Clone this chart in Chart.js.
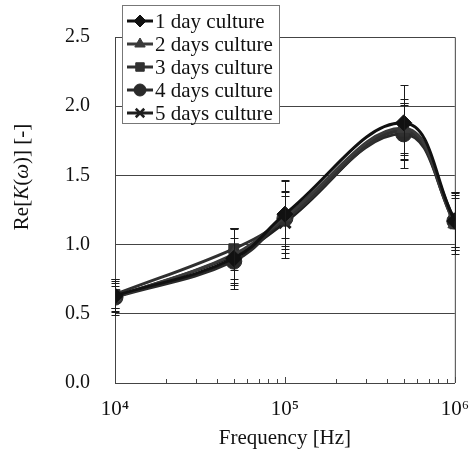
<!DOCTYPE html>
<html>
<head>
<meta charset="utf-8">
<script src="https://cdn.jsdelivr.net/npm/chart.js@4/dist/chart.umd.min.js"></script>
<style>
  html, body { margin: 0; background: #fff; }
  #wrap { width: 475px; height: 456px; }
</style>
</head>
<body>
<div id="wrap"><canvas id="chart"></canvas></div>
<script>
const frequencies = [1e4, 5e4, 1e5, 5e5, 1e6];
const seriesNames = ['1 day culture', '2 days culture', '3 days culture', '4 days culture', '5 days culture'];

const day1 = [0.63, 0.90, 1.22, 1.88, 1.17];
const day2 = [0.62, 0.93, 1.20, 1.84, 1.15];
const day3 = [0.64, 0.97, 1.18, 1.82, 1.15];
const day4 = [0.62, 0.88, 1.19, 1.80, 1.17];
const day5 = [0.62, 0.92, 1.16, 1.83, 1.18];

const day1Err = [0.12, 0.22, 0.25, 0.27, 0.21];
const day2Err = [0.10, 0.18, 0.15, 0.18, 0.19];
const day3Err = [0.10, 0.15, 0.28, 0.20, 0.22];
const day4Err = [0.13, 0.17, 0.20, 0.25, 0.19];
const day5Err = [0.08, 0.20, 0.22, 0.18, 0.20];

const xTicks = [1e4, 2e4, 3e4, 4e4, 5e4, 6e4, 7e4, 8e4, 9e4,
                1e5, 2e5, 3e5, 4e5, 5e5, 6e5, 7e5, 8e5, 9e5, 1e6];
const xMajor = [1e4, 1e5, 1e6];
const yTicks = [0, 0.5, 1.0, 1.5, 2.0, 2.5];

const values = [day1, day2, day3, day4, day5];
const errors = [day1Err, day2Err, day3Err, day4Err, day5Err];
const pointStyles = ['rectRot', 'triangle', 'rect', 'circle', 'crossRot'];
const radii = [8, 8, 7, 8, 8];
const colors = ['#111111', '#3a3a3a', '#303030', '#2a2a2a', '#1e1e1e'];

const serif = '"Liberation Serif", "DejaVu Serif", serif';
const sup = { 4: '\u2074', 5: '\u2075', 6: '\u2076' };

const datasets = values.map((vals, i) => ({
  label: seriesNames[i],
  data: vals.map((v, j) => ({ x: frequencies[j], y: v })),
  borderColor: colors[i],
  backgroundColor: colors[i],
  borderWidth: 3,
  tension: 0.4,
  pointStyle: pointStyles[i],
  pointRadius: radii[i],
  pointBackgroundColor: colors[i],
  pointBorderColor: colors[i],
  pointBorderWidth: pointStyles[i] === 'crossRot' ? 3 : 1
}));

// frame, inward x ticks, error bars, legend and axis titles
const extras = {
  id: 'extras',
  beforeDatasetsDraw(chart) {
    const { ctx, chartArea: a } = chart;
    const xs = chart.scales.x;
    ctx.save();
    ctx.strokeStyle = '#444';
    ctx.lineWidth = 1;
    ctx.beginPath();
    ctx.moveTo(a.left, a.top + 0.5);
    ctx.lineTo(a.right + 0.5, a.top + 0.5);
    ctx.lineTo(a.right + 0.5, a.bottom);
    for (const t of xTicks) {
      const px = Math.round(xs.getPixelForValue(t)) + 0.5;
      const len = xMajor.includes(t) ? 6 : 4;
      ctx.moveTo(px, a.bottom);
      ctx.lineTo(px, a.bottom - len);
    }
    ctx.stroke();
    ctx.restore();
  },
  afterDatasetsDraw(chart) {
    const { ctx } = chart;
    const xs = chart.scales.x, ys = chart.scales.y;
    ctx.save();
    ctx.strokeStyle = '#1a1a1a';
    ctx.lineWidth = 1;
    values.forEach((vals, i) => {
      vals.forEach((v, j) => {
        const px = Math.round(xs.getPixelForValue(frequencies[j])) + 0.5;
        const top = Math.round(ys.getPixelForValue(v + errors[i][j])) + 0.5;
        const bot = Math.round(ys.getPixelForValue(v - errors[i][j])) + 0.5;
        ctx.beginPath();
        ctx.moveTo(px, top); ctx.lineTo(px, bot);
        ctx.moveTo(px - 4, top); ctx.lineTo(px + 4, top);
        ctx.moveTo(px - 4, bot); ctx.lineTo(px + 4, bot);
        ctx.stroke();
      });
    });
    ctx.restore();
  },
  afterDraw(chart) {
    const { ctx, chartArea: a } = chart;
    ctx.save();

    // legend box
    ctx.fillStyle = '#fff';
    ctx.fillRect(122, 5, 157, 118);
    ctx.strokeStyle = '#777';
    ctx.lineWidth = 1;
    ctx.strokeRect(122.5, 5.5, 157, 118);
    seriesNames.forEach((name, i) => {
      const cy = 21 + i * 23;
      ctx.strokeStyle = colors[i];
      ctx.fillStyle = colors[i];
      ctx.lineWidth = 3;
      ctx.beginPath();
      ctx.moveTo(127, cy); ctx.lineTo(153, cy);
      ctx.stroke();
      if (Chart.helpers && Chart.helpers.drawPoint) {
        ctx.lineWidth = pointStyles[i] === 'crossRot' ? 2.5 : 1;
        Chart.helpers.drawPoint(ctx, { pointStyle: pointStyles[i], radius: 6, rotation: 0, borderWidth: ctx.lineWidth }, 140, cy);
      }
      ctx.fillStyle = '#111';
      ctx.font = '21px ' + serif;
      ctx.textAlign = 'left';
      ctx.textBaseline = 'middle';
      ctx.fillText(name, 155, cy + 1);
    });

    // x title
    ctx.fillStyle = '#111';
    ctx.font = '21px ' + serif;
    ctx.textAlign = 'center';
    ctx.textBaseline = 'middle';
    ctx.fillText('Frequency [Hz]', (a.left + a.right) / 2, 438);

    // y title with italic parts
    const parts = [['Re[', false], ['K', true], ['(', false], ['\u03c9', true], [')] [-]', false]];
    const fontFor = it => (it ? 'italic ' : '') + '21px ' + serif;
    let total = 0;
    for (const [t, it] of parts) { ctx.font = fontFor(it); total += ctx.measureText(t).width; }
    ctx.translate(22, 177);
    ctx.rotate(-Math.PI / 2);
    ctx.textAlign = 'left';
    let x = -total / 2;
    for (const [t, it] of parts) {
      ctx.font = fontFor(it);
      ctx.fillText(t, x, 0);
      x += ctx.measureText(t).width;
    }
    ctx.restore();
  }
};

new Chart(document.getElementById('chart'), {
  type: 'line',
  data: { datasets },
  plugins: [extras],
  options: {
    responsive: true,
    maintainAspectRatio: false,
    animation: false,
    devicePixelRatio: 1,
    layout: { padding: { top: 19, right: 20, bottom: 0, left: 0 } },
    plugins: { legend: { display: false }, tooltip: { enabled: false } },
    scales: {
      x: {
        type: 'logarithmic',
        min: 1e4,
        max: 1e6,
        afterBuildTicks: s => { s.ticks = xTicks.map(v => ({ value: v })); },
        afterFit: s => { s.height = 73; },
        grid: { display: false },
        border: { display: true, color: '#444', width: 1 },
        ticks: {
          autoSkip: false,
          maxRotation: 0,
          padding: 6,
          color: '#111',
          font: { family: serif, size: 21 },
          callback: v => xMajor.includes(v) ? '10' + sup[Math.round(Math.log10(v))] : ''
        }
      },
      y: {
        min: 0,
        max: 2.5,
        afterBuildTicks: s => { s.ticks = yTicks.map(v => ({ value: v })); },
        afterFit: s => { s.width = 115; },
        grid: { color: '#444', drawTicks: false },
        border: { display: true, color: '#444', width: 1 },
        ticks: {
          padding: 25,
          color: '#111',
          font: { family: serif, size: 20 },
          callback: v => Number(v).toFixed(1)
        }
      }
    }
  }
});
</script>
</body>
</html>
